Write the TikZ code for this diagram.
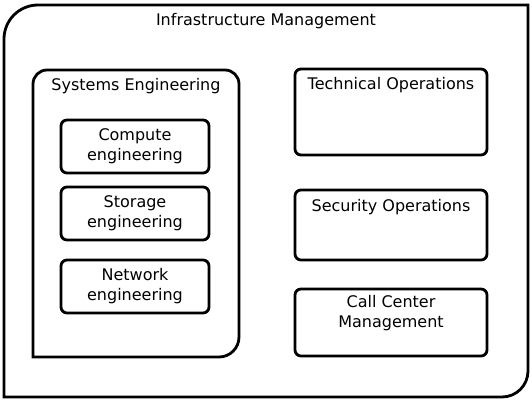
\documentclass[tikz,border=0pt]{standalone}
\usepackage{fontspec}
\setmainfont{DejaVu Sans}
\usetikzlibrary{positioning}

\begin{document}
\begin{tikzpicture}[x=1pt,y=-1pt,line width=2.8pt,outer sep=0pt,
                    font=\fontsize{16}{20}\selectfont,
                    frame/.style={draw=none,inner sep=0pt},
                    team/.style={draw,rounded corners=6pt,minimum width=148pt,
                                 minimum height=53pt,align=center,inner sep=0pt},
                    unit/.style={draw,rounded corners=6pt,minimum width=192pt,inner sep=0pt},
                    caption/.style={inner sep=1pt,align=center}]
  \useasboundingbox (0,0) rectangle (532,401);

  % outer frame
  \node[frame,minimum width=524pt,minimum height=392pt] (infra) at (266,201) {};
  \draw (infra.south west) [rounded corners=34pt] -- (infra.north west)
        [sharp corners] -- (infra.north east) [rounded corners=26pt]
        -- (infra.south east) [sharp corners] -- cycle;
  \node[caption,below=7pt of infra.north] (infraname) {Infrastructure Management};

  % left column
  \node[frame,minimum width=206pt,minimum height=287pt] (syseng) at (136,213.5) {};
  \draw (syseng.south west) [rounded corners=14pt] -- (syseng.north west)
        -- (syseng.north east) [rounded corners=20pt]
        -- (syseng.south east) [sharp corners] -- cycle;
  \node[caption,below=7.5pt of syseng.north] (sysname) {Systems Engineering};

  \node[team]         (compute) at (135,146.5)   {Compute\\engineering};
  \node[team]         (storage) [below=14pt of compute] {Storage\\engineering};
  \node[team]         (network) [below=20pt of storage] {Network\\engineering};

  % right column
  \node[unit,minimum height=86pt] (techops) at (391,112) {};
  \node[unit,minimum height=70pt] (secops) [below=35pt of techops] {};
  \node[unit,minimum height=67pt] (callcenter) [below=29pt of secops] {};

  \node[caption,below=7.5pt of techops.north]    (techname) {Technical Operations};
  \node[caption,below=8.5pt of secops.north]     (secname)  {Security Operations};
  \node[caption,below=5.5pt of callcenter.north] (callname) {Call Center\\Management};
\end{tikzpicture}
\end{document}
